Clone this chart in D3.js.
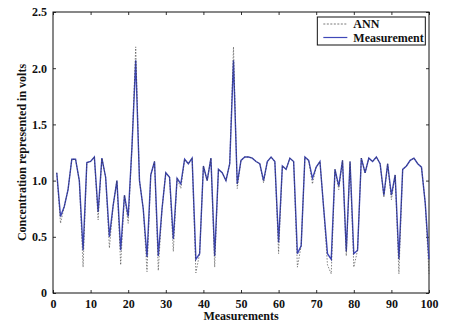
<!DOCTYPE html>
<html>
<head>
<meta charset="utf-8">
<script src="https://cdn.jsdelivr.net/npm/d3@7"></script>
<style>
  body { margin: 0; background: #fff; }
  svg text { font-family: "Liberation Serif", "Times New Roman", serif; font-weight: bold; }
</style>
</head>
<body>
<div id="chart"></div>
<script>
// measurement values for samples 1..100
const measurement = [
  1.07, 0.68, 0.77, 0.92, 1.19, 1.19, 1.0, 0.38, 1.16, 1.17,
  1.21, 0.72, 1.2, 1.03, 0.5, 0.78, 1.0, 0.38, 0.87, 0.68,
  1.3, 2.07, 1.0, 0.75, 0.32, 1.05, 1.17, 0.33, 0.75, 1.07,
  1.03, 0.48, 1.02, 0.97, 1.19, 1.15, 1.2, 0.3, 0.35, 1.13,
  1.0, 1.2, 0.33, 1.1, 1.07, 1.0, 1.15, 2.07, 0.97, 1.18,
  1.21, 1.21, 1.2, 1.17, 1.15, 1.0, 1.17, 1.21, 1.17, 0.45,
  1.13, 1.1, 1.2, 1.17, 0.35, 0.42, 1.21, 1.18, 1.02, 1.12,
  1.17, 0.75, 0.35, 0.3, 1.1, 0.95, 1.18, 0.37, 1.17, 0.35,
  0.38, 1.2, 1.07, 1.2, 1.17, 1.21, 1.15, 0.87, 1.15, 0.87,
  1.05, 0.3, 1.1, 1.13, 1.18, 1.2, 1.15, 1.12, 0.8, 0.3
];
// ANN prediction for samples 1..100
const ann = [
  1.07, 0.62, 0.77, 0.92, 1.19, 1.19, 1.0, 0.23, 1.16, 1.17,
  1.21, 0.65, 1.2, 1.03, 0.4, 0.78, 1.0, 0.25, 0.87, 0.62,
  1.3, 2.19, 1.0, 0.75, 0.19, 1.05, 1.17, 0.2, 0.75, 1.07,
  1.03, 0.37, 1.02, 0.93, 1.19, 1.15, 1.2, 0.18, 0.35, 1.13,
  1.0, 1.2, 0.23, 1.1, 1.07, 1.0, 1.15, 2.19, 0.93, 1.18,
  1.21, 1.21, 1.2, 1.17, 1.15, 0.98, 1.17, 1.21, 1.17, 0.35,
  1.13, 1.1, 1.2, 1.17, 0.23, 0.42, 1.21, 1.18, 0.97, 1.12,
  1.17, 0.75, 0.25, 0.17, 1.1, 0.92, 1.18, 0.33, 1.17, 0.23,
  0.38, 1.2, 1.07, 1.2, 1.17, 1.21, 1.15, 0.85, 1.15, 0.83,
  1.05, 0.17, 1.1, 1.13, 1.18, 1.2, 1.15, 1.12, 0.8, 0.17
];
const xTicks = [0, 10, 20, 30, 40, 50, 60, 70, 80, 90, 100];
const yTicks = [0, 0.5, 1.0, 1.5, 2.0, 2.5];
const legendLabels = ["ANN", "Measurement"];

const W = 450, H = 325;
const margin = {top: 12, right: 21, bottom: 32, left: 53};
const w = W - margin.left - margin.right;
const h = H - margin.top - margin.bottom;

const svg = d3.select("#chart").append("svg")
  .attr("width", W).attr("height", H);
const g = svg.append("g")
  .attr("transform", "translate(" + margin.left + "," + margin.top + ")");

const x = d3.scaleLinear().domain([0, 100]).range([0, w]);
const y = d3.scaleLinear().domain([0, 2.5]).range([h, 0]);

const fmtY = d => d === 0 ? "0" : d3.format(".1f")(d);

// axes, ticks pointing inward
g.append("g").attr("transform", "translate(0," + h + ")")
  .call(d3.axisBottom(x).tickValues(xTicks).tickSize(-3).tickPadding(6))
  .call(a => a.select(".domain").remove())
  .selectAll("text").attr("font-size", 12).attr("fill", "#111");
g.append("g")
  .call(d3.axisLeft(y).tickValues(yTicks).tickSize(-3).tickPadding(6).tickFormat(fmtY))
  .call(a => a.select(".domain").remove())
  .selectAll("text").attr("font-size", 12).attr("fill", "#111");
g.append("g")
  .call(d3.axisTop(x).tickValues(xTicks).tickSize(-3).tickFormat(""))
  .call(a => a.select(".domain").remove());
g.append("g").attr("transform", "translate(" + w + ",0)")
  .call(d3.axisRight(y).tickValues(yTicks).tickSize(-3).tickFormat(""))
  .call(a => a.select(".domain").remove());
g.selectAll(".tick line").attr("stroke", "#333");

g.append("rect").attr("width", w).attr("height", h)
  .attr("fill", "none").attr("stroke", "#111").attr("stroke-width", 1);

const line = d3.line().x((d, i) => x(i + 1)).y(d => y(d));

g.append("path").datum(measurement)
  .attr("fill", "none").attr("stroke", "#3f48b8").attr("stroke-width", 1.4)
  .attr("d", line);
g.append("path").datum(ann)
  .attr("fill", "none").attr("stroke", "#333").attr("stroke-width", 0.8)
  .attr("stroke-dasharray", "1.5,1.5").attr("opacity", 0.75)
  .attr("d", line);

// legend
const lg = g.append("g").attr("transform", "translate(" + (x(70.3)) + "," + 5 + ")");
lg.append("rect").attr("width", 108).attr("height", 28)
  .attr("fill", "#fff").attr("stroke", "#111").attr("stroke-width", 1);
lg.append("line").attr("x1", 6).attr("x2", 30).attr("y1", 7).attr("y2", 7)
  .attr("stroke", "#555").attr("stroke-width", 0.8).attr("stroke-dasharray", "2,1.5");
lg.append("line").attr("x1", 6).attr("x2", 30).attr("y1", 20.5).attr("y2", 20.5)
  .attr("stroke", "#3f48b8").attr("stroke-width", 1.2);
lg.selectAll("text.lab").data(legendLabels).join("text")
  .attr("class", "lab")
  .attr("x", 36).attr("y", (d, i) => 11 + i * 13.5)
  .attr("font-size", 12).attr("fill", "#111")
  .text(d => d);

// axis titles
svg.append("text")
  .attr("x", margin.left + w / 2).attr("y", 320)
  .attr("text-anchor", "middle").attr("font-size", 12).attr("fill", "#111")
  .text("Measurements");
svg.append("text")
  .attr("transform", "translate(26," + (margin.top + h / 2) + ") rotate(-90)")
  .attr("text-anchor", "middle").attr("font-size", 12).attr("fill", "#111")
  .text("Concentration represented in volts");
</script>
</body>
</html>
